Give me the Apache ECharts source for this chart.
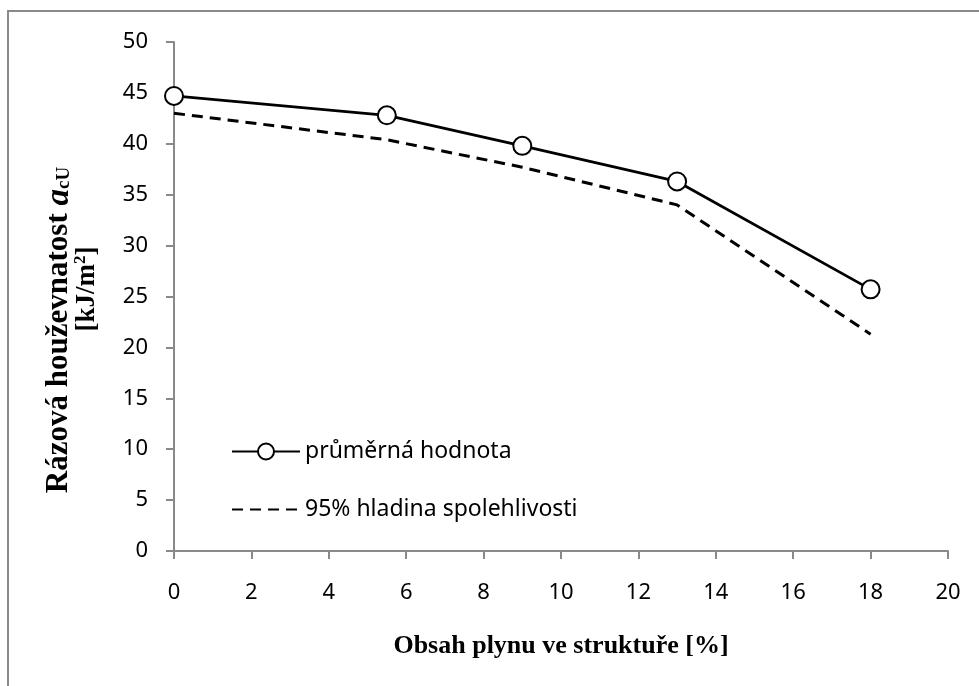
<!DOCTYPE html>
<html>
<head>
<meta charset="utf-8">
<script src="https://cdn.jsdelivr.net/npm/echarts@6/dist/echarts.min.js"></script>
<style>
  html, body { margin: 0; padding: 0; background: #fff; }
  #chart { width: 979px; height: 686px; }
</style>
</head>
<body>
<div id="chart"></div>
<script>
// obsah plynu [%]
var gasContent = [0, 5.5, 9, 13, 18];
// průměrná hodnota
var meanValues = [44.7, 42.8, 39.8, 36.3, 25.7];
// 95% hladina spolehlivosti
var lowerValues = [43.0, 40.4, 37.7, 34.0, 21.3];

var meanName = 'průměrná hodnota';
var lowerName = '95% hladina spolehlivosti';

function pairs(xs, ys) {
    return xs.map(function (x, i) { return [x, ys[i]]; });
}

var chart = echarts.init(document.getElementById('chart'));
var axisGray = '#898989';
var tickFont = '"Noto Sans", sans-serif';
var serif = '"Liberation Serif", "DejaVu Serif", serif';

var option = {
    animation: false,
    backgroundColor: '#fff',
    grid: { left: 174, right: 31, top: 42, bottom: 135 },
    xAxis: {
        type: 'value',
        min: 0, max: 20, interval: 2,
        name: 'Obsah plynu ve struktuře [%]',
        nameLocation: 'middle',
        nameGap: 82,
        nameTextStyle: { fontFamily: serif, fontWeight: 'bold', fontSize: 26, color: '#000' },
        axisLine: { lineStyle: { color: axisGray, width: 2 } },
        axisTick: { length: 8, lineStyle: { color: axisGray, width: 2 } },
        axisLabel: { margin: 31, fontFamily: tickFont, fontSize: 22, color: '#000' },
        splitLine: { show: false }
    },
    yAxis: {
        type: 'value',
        min: 0, max: 50, interval: 5,
        axisLine: { show: true, lineStyle: { color: axisGray, width: 2 } },
        axisTick: { show: true, length: 8, lineStyle: { color: axisGray, width: 2 } },
        axisLabel: { margin: 26, fontFamily: tickFont, fontSize: 22, color: '#000' },
        splitLine: { show: false }
    },
    legend: {
        orient: 'vertical',
        left: 226,
        top: 435,
        itemWidth: 68,
        itemHeight: 20,
        itemGap: 35,
        textStyle: { fontFamily: tickFont, fontSize: 23, color: '#000' },
        data: [
            { name: meanName },
            { name: lowerName, itemStyle: { opacity: 0 } }
        ]
    },
    graphic: [
        {
            type: 'polyline',
            shape: { points: [[8, 686], [8, 11], [979, 11]] },
            style: { stroke: '#8a8a8a', lineWidth: 2, fill: null }
        },
        {
            type: 'text',
            x: 59, y: 330,
            rotation: Math.PI / 2,
            style: {
                text: '{t|Rázová houževnatost }{a|a}{s|cU}',
                align: 'center',
                verticalAlign: 'middle',
                rich: {
                    t: { fontFamily: serif, fontWeight: 'bold', fontSize: 31, fill: '#000' },
                    a: { fontFamily: serif, fontWeight: 'bold', fontStyle: 'italic', fontSize: 33, fill: '#000' },
                    s: { fontFamily: serif, fontWeight: 'bold', fontSize: 19, fill: '#000', padding: [11, 0, 0, 0] }
                }
            }
        },
        {
            type: 'text',
            x: 87, y: 289,
            rotation: Math.PI / 2,
            style: {
                text: '{t|[kJ/m}{p|2}{t|]}',
                align: 'center',
                verticalAlign: 'middle',
                rich: {
                    t: { fontFamily: serif, fontWeight: 'bold', fontSize: 27, fill: '#000' },
                    p: { fontFamily: serif, fontWeight: 'bold', fontSize: 17, fill: '#000', padding: [0, 0, 12, 0] }
                }
            }
        }
    ],
    series: [
        {
            name: meanName,
            type: 'line',
            data: pairs(gasContent, meanValues),
            symbol: 'emptyCircle',
            symbolSize: 18,
            color: '#000',
            lineStyle: { color: '#000', width: 2.8 },
            itemStyle: { color: '#000', borderWidth: 2.2 }
        },
        {
            name: lowerName,
            type: 'line',
            data: pairs(gasContent, lowerValues),
            symbol: 'none',
            color: '#000',
            lineStyle: { color: '#000', width: 3, type: [11, 7] }
        }
    ]
};
chart.setOption(option);
</script>
</body>
</html>
